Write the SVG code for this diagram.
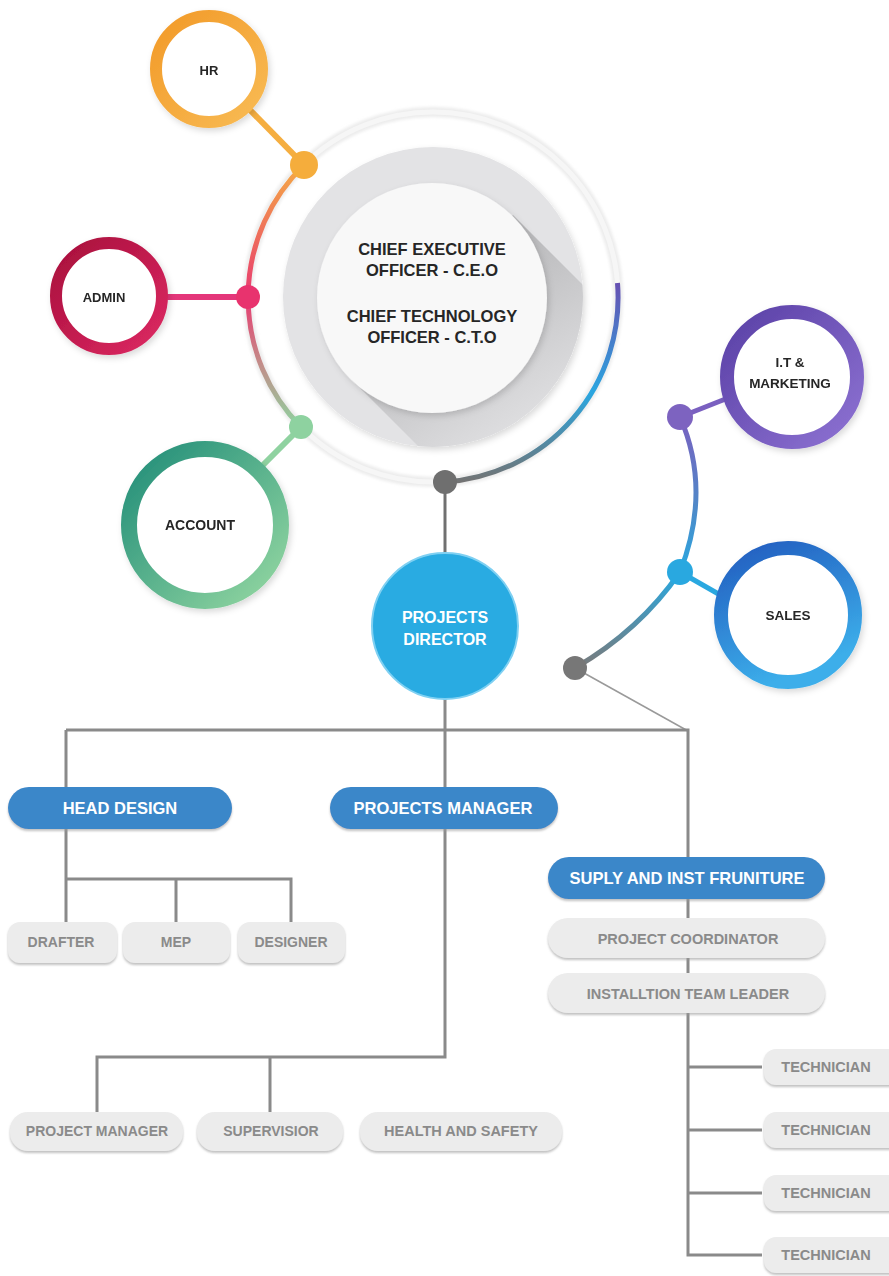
<svg xmlns="http://www.w3.org/2000/svg" width="889" height="1276" viewBox="0 0 889 1276">
<defs>
<style>
text{font-family:"Liberation Sans",Arial,sans-serif;font-weight:bold;text-anchor:middle;dominant-baseline:central}
.dark{fill:#262626}
.wt{fill:#ffffff}
.gt{fill:#8a8a8a}
.ln{stroke:#8a8a8a;stroke-width:3;fill:none}
.bp{fill:#3b87c9;filter:url(#ps)}
.gp{fill:#ececec;filter:url(#ps)}
</style>
<filter id="ps" x="-10%" y="-20%" width="120%" height="150%"><feDropShadow dx="0" dy="2" stdDeviation="1.2" flood-color="#9a9a9a" flood-opacity="0.6"/></filter>
<filter id="sh" x="-20%" y="-20%" width="140%" height="140%"><feDropShadow dx="2" dy="3" stdDeviation="3" flood-color="#000" flood-opacity="0.15"/></filter>
<filter id="soft" x="-10%" y="-10%" width="120%" height="120%"><feGaussianBlur stdDeviation="1.5"/></filter>
<linearGradient id="gHR" x1="0" y1="0" x2="1" y2="1"><stop offset="0" stop-color="#f29a28"/><stop offset="1" stop-color="#f8bb55"/></linearGradient>
<linearGradient id="gAD" x1="0" y1="0" x2="1" y2="1"><stop offset="0" stop-color="#a80e3c"/><stop offset="1" stop-color="#dc2962"/></linearGradient>
<linearGradient id="gAC" x1="0" y1="0" x2="1" y2="1"><stop offset="0" stop-color="#1f8c78"/><stop offset="1" stop-color="#95d8a2"/></linearGradient>
<linearGradient id="gIT" x1="0" y1="0" x2="1" y2="1"><stop offset="0" stop-color="#5a40a6"/><stop offset="1" stop-color="#8d72d2"/></linearGradient>
<linearGradient id="gSA" x1="0" y1="0" x2="0.4" y2="1"><stop offset="0" stop-color="#225cbf"/><stop offset="1" stop-color="#3caeea"/></linearGradient>
<linearGradient id="gLA" gradientUnits="userSpaceOnUse" x1="0" y1="165" x2="0" y2="427"><stop offset="0" stop-color="#f5aa45"/><stop offset="0.5" stop-color="#e83a70"/><stop offset="0.75" stop-color="#c48a88"/><stop offset="1" stop-color="#8fd2a0"/></linearGradient>
<linearGradient id="gRA" gradientUnits="userSpaceOnUse" x1="0" y1="283" x2="0" y2="482"><stop offset="0" stop-color="#6650b2"/><stop offset="0.55" stop-color="#2aa6e0"/><stop offset="1" stop-color="#737373"/></linearGradient>
<linearGradient id="gRC" gradientUnits="userSpaceOnUse" x1="0" y1="417" x2="0" y2="668"><stop offset="0" stop-color="#7a5fc0"/><stop offset="0.35" stop-color="#5088c8"/><stop offset="0.62" stop-color="#29a8e0"/><stop offset="1" stop-color="#7a7a7a"/></linearGradient>
<linearGradient id="gLS" gradientUnits="userSpaceOnUse" x1="470" y1="260" x2="560" y2="400"><stop offset="0" stop-color="#b8b8ba"/><stop offset="1" stop-color="#dedee0"/></linearGradient>
<clipPath id="disk"><circle cx="433" cy="297" r="150"/></clipPath>
</defs>
<rect width="889" height="1276" fill="#ffffff"/>

<g id="connectors">
<circle cx="433" cy="297" r="185" fill="none" stroke="#ececec" stroke-width="10" filter="url(#soft)"/>
<circle cx="433" cy="297" r="185" fill="none" stroke="#f6f6f6" stroke-width="5"/>
<path d="M304,165 A185,185 0 0 0 301,427" fill="none" stroke="url(#gLA)" stroke-width="5"/>
<path d="M617.5,283 A185,185 0 0 1 445,482" fill="none" stroke="url(#gRA)" stroke-width="5"/>
<path d="M680,417 Q712,490 680,572 Q640,630 575,668" fill="none" stroke="url(#gRC)" stroke-width="5"/>
<line x1="304" y1="165" x2="250" y2="110" stroke="#f5ae40" stroke-width="6"/>
<line x1="248" y1="297" x2="165" y2="297" stroke="#e4367a" stroke-width="6"/>
<line x1="301" y1="427" x2="262" y2="466" stroke="#8fd2a0" stroke-width="6"/>
<line x1="680" y1="417" x2="728" y2="398" stroke="#7a60c0" stroke-width="5"/>
<line x1="680" y1="572" x2="722" y2="596" stroke="#2aa8e0" stroke-width="5"/>
<line x1="575" y1="668" x2="688" y2="731" stroke="#9a9a9a" stroke-width="1.5"/>
<line x1="445" y1="482" x2="445" y2="556" stroke="#707070" stroke-width="3"/>
<path class="ln" d="M445,698 V1057 H97 V1114 M270,1057 V1114"/>
<path class="ln" d="M66,730 H688 V1255 H762 M688,1067 H762 M688,1130 H762 M688,1193 H762"/>
<path class="ln" d="M66,730 V922 M66,879 H291 V922 M176,879 V922"/>
<circle cx="304" cy="165" r="14" fill="#f5ad3c"/>
<circle cx="248" cy="297" r="12" fill="#e8336e"/>
<circle cx="301" cy="427" r="12" fill="#8ed2a0"/>
<circle cx="445" cy="482" r="12" fill="#6f6f6f"/>
<circle cx="680" cy="417" r="13" fill="#7d63c0"/>
<circle cx="680" cy="572" r="13" fill="#29a8e0"/>
<circle cx="575" cy="668" r="12" fill="#777777"/>
</g>

<g id="ceo">
<circle cx="433" cy="297" r="150" fill="#e3e3e5" filter="url(#sh)"/>
<polygon clip-path="url(#disk)" points="513,215 653,355 490,518 350,378" fill="url(#gLS)"/>
<circle cx="432" cy="298" r="115" fill="#f8f8f8" filter="url(#sh)"/>
<text class="dark" x="432" y="249" font-size="16.5">CHIEF EXECUTIVE</text>
<text class="dark" x="432" y="270" font-size="16.5">OFFICER - C.E.O</text>
<text class="dark" x="432" y="316" font-size="16.5">CHIEF TECHNOLOGY</text>
<text class="dark" x="432" y="337" font-size="16.5">OFFICER - C.T.O</text>
</g>

<g id="hr" filter="url(#sh)">
<circle cx="209" cy="69" r="53" fill="#ffffff" stroke="url(#gHR)" stroke-width="12"/>
<text class="dark" x="209" y="70" font-size="13">HR</text>
</g>
<g id="admin" filter="url(#sh)">
<circle cx="109" cy="296" r="53" fill="#ffffff" stroke="url(#gAD)" stroke-width="12"/>
<text class="dark" x="104" y="297" font-size="13">ADMIN</text>
</g>
<g id="account" filter="url(#sh)">
<circle cx="205" cy="525" r="76" fill="#ffffff" stroke="url(#gAC)" stroke-width="16"/>
<text class="dark" x="200" y="525" font-size="14">ACCOUNT</text>
</g>
<g id="it" filter="url(#sh)">
<circle cx="792" cy="377" r="65" fill="#ffffff" stroke="url(#gIT)" stroke-width="14"/>
<text class="dark" x="790" y="362" font-size="13.5">I.T &amp;</text>
<text class="dark" x="790" y="383" font-size="13.5">MARKETING</text>
</g>
<g id="sales" filter="url(#sh)">
<circle cx="788" cy="615" r="67" fill="#ffffff" stroke="url(#gSA)" stroke-width="14"/>
<text class="dark" x="788" y="615" font-size="13.5">SALES</text>
</g>
<g id="projects-director">
<circle cx="445" cy="626" r="73" fill="#29abe2" stroke="#7fd0f2" stroke-width="2"/>
<text class="wt" x="445" y="617" font-size="16">PROJECTS</text>
<text class="wt" x="445" y="639" font-size="16">DIRECTOR</text>
</g>

<g id="head-design">
<rect class="bp" x="8" y="787" width="224" height="42" rx="21"/>
<text class="wt" x="120" y="808" font-size="16.5">HEAD DESIGN</text>
</g>
<g id="projects-manager">
<rect class="bp" x="330" y="787" width="228" height="42" rx="21"/>
<text class="wt" x="443" y="808" font-size="16.5">PROJECTS MANAGER</text>
</g>
<g id="suply">
<rect class="bp" x="548" y="857" width="277" height="42" rx="21"/>
<text class="wt" x="687" y="878" font-size="16.5">SUPLY AND INST FRUNITURE</text>
</g>
<g id="project-coordinator">
<rect class="gp" x="548" y="918" width="277" height="40" rx="20"/>
<text class="gt" x="688" y="939" font-size="14.5">PROJECT COORDINATOR</text>
</g>
<g id="team-leader">
<rect class="gp" x="548" y="973" width="277" height="40" rx="20"/>
<text class="gt" x="688" y="994" font-size="14.5">INSTALLTION TEAM LEADER</text>
</g>
<g id="drafter">
<rect class="gp" x="8" y="922" width="109" height="41" rx="12"/>
<text class="gt" x="61" y="942" font-size="14">DRAFTER</text>
</g>
<g id="mep">
<rect class="gp" x="123" y="922" width="107" height="41" rx="12"/>
<text class="gt" x="176" y="942" font-size="14">MEP</text>
</g>
<g id="designer">
<rect class="gp" x="238" y="922" width="107" height="41" rx="12"/>
<text class="gt" x="291" y="942" font-size="14">DESIGNER</text>
</g>
<g id="project-manager">
<rect class="gp" x="10" y="1112" width="173" height="39" rx="18"/>
<text class="gt" x="97" y="1131" font-size="14">PROJECT MANAGER</text>
</g>
<g id="supervisior">
<rect class="gp" x="197" y="1112" width="146" height="39" rx="18"/>
<text class="gt" x="271" y="1131" font-size="14">SUPERVISIOR</text>
</g>
<g id="health-safety">
<rect class="gp" x="360" y="1112" width="202" height="39" rx="18"/>
<text class="gt" x="461" y="1131" font-size="14.5">HEALTH AND SAFETY</text>
</g>
<g id="technician-1">
<rect class="gp" x="764" y="1049" width="140" height="36" rx="12"/>
<text class="gt" x="826" y="1067" font-size="14.5">TECHNICIAN</text>
</g>
<g id="technician-2">
<rect class="gp" x="764" y="1112" width="140" height="36" rx="12"/>
<text class="gt" x="826" y="1130" font-size="14.5">TECHNICIAN</text>
</g>
<g id="technician-3">
<rect class="gp" x="764" y="1175" width="140" height="36" rx="12"/>
<text class="gt" x="826" y="1193" font-size="14.5">TECHNICIAN</text>
</g>
<g id="technician-4">
<rect class="gp" x="764" y="1237" width="140" height="36" rx="12"/>
<text class="gt" x="826" y="1255" font-size="14.5">TECHNICIAN</text>
</g>
</svg>
